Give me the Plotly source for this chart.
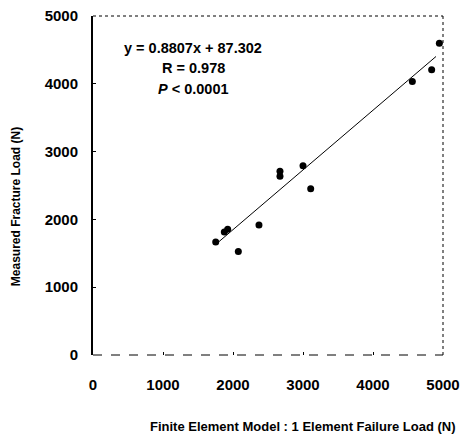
import plotly.graph_objects as go

# Data
fe_load = [1753, 1876, 1924, 2076, 2371, 2671, 2671, 3000, 3110, 4562, 4838, 4948]
measured_load = [1666, 1813, 1853, 1525, 1916, 2710, 2636, 2790, 2451, 4034, 4206, 4598]
slope = 0.8807
intercept = 87.302
fit_x = [1800, 4900]
fit_y = [slope * v + intercept for v in fit_x]
tick_vals = [0, 1000, 2000, 3000, 4000, 5000]

FONT = "Liberation Sans, Arial, sans-serif"

fig = go.Figure()
fig.add_trace(go.Scatter(x=fit_x, y=fit_y, mode="lines",
                         line=dict(color="black", width=1), showlegend=False))
fig.add_trace(go.Scatter(x=fe_load, y=measured_load, mode="markers",
                         marker=dict(color="black", size=7, symbol="circle"),
                         showlegend=False))

def note(text, x, y, size, angle=0):
    return dict(text=text, x=x, y=y, xref="paper", yref="paper", showarrow=False,
                xanchor="center", yanchor="middle", textangle=angle,
                font=dict(size=size, family=FONT, weight="bold"))

fig.update_layout(
    width=462, height=442,
    margin=dict(l=93, r=19, t=16, b=87),
    plot_bgcolor="white", paper_bgcolor="white",
    font=dict(family=FONT, color="black"),
    xaxis=dict(range=[0, 5000], tickvals=tick_vals, showgrid=False, zeroline=False,
               ticks="inside", ticklen=3, tickcolor="black", showline=False,
               automargin=False,
               tickfont=dict(size=15, family=FONT, weight="bold"), ticklabelstandoff=19),
    yaxis=dict(range=[0, 5000], tickvals=tick_vals, showgrid=False, zeroline=False,
               ticks="inside", ticklen=3, tickcolor="black", showline=True,
               linecolor="black", linewidth=2, automargin=False,
               tickfont=dict(size=15, family=FONT, weight="bold"), ticklabelstandoff=10),
    shapes=[
        dict(type="line", xref="paper", yref="paper", x0=0, x1=1, y0=1, y1=1,
             line=dict(color="black", width=1, dash="dot")),
        dict(type="line", xref="paper", yref="paper", x0=1, x1=1, y0=0, y1=1,
             line=dict(color="black", width=1, dash="dot")),
        dict(type="line", xref="paper", yref="paper", x0=0, x1=1, y0=0, y1=0,
             line=dict(color="black", width=1, dash="dash")),
    ],
    annotations=[
        note("y = 0.8807x + 87.302", 0.286, 0.906, 14.5),
        note("R = 0.978", 0.286, 0.847, 14.5),
        note("<i>P</i> < 0.0001", 0.286, 0.785, 14.5),
        note("Finite Element Model : 1 Element Failure Load (N)", 0.6, -0.212, 13),
        note("Measured Fracture Load (N)", -0.22, 0.436, 12, -90),
    ],
)

fig.write_html("out.html", config={"displayModeBar": False},
               post_script="document.body.style.margin='0';document.body.style.overflow='hidden';")
